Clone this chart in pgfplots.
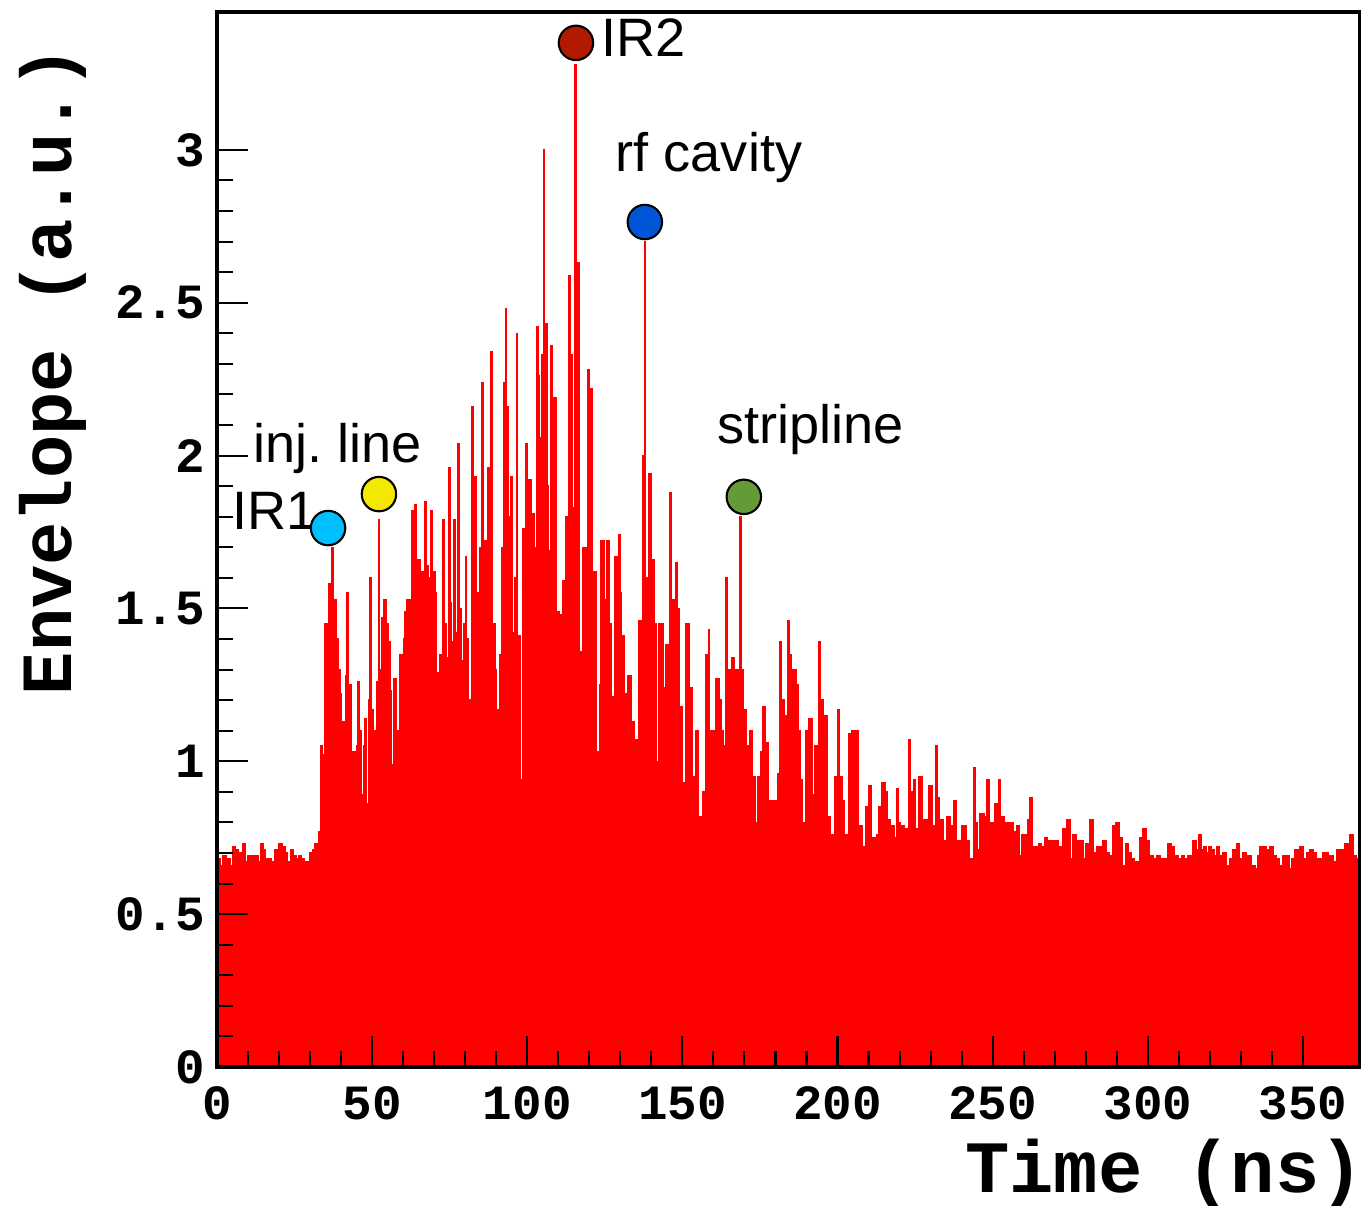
\documentclass[border=0pt]{standalone}
\usepackage{fontspec}
\setmainfont{Liberation Sans}
\setmonofont{Liberation Mono}
\usepackage{pgfplots}
\pgfplotsset{compat=1.18}

\definecolor{mkcyan}{RGB}{0,191,255}
\definecolor{mkyellow}{RGB}{245,232,0}
\definecolor{mkred}{RGB}{178,26,0}
\definecolor{mkblue}{RGB}{0,85,214}
\definecolor{mkgreen}{RGB}{100,155,55}

\pgfplotstableread{
x y
0 0.68
1 0.66
2 0.69
3 0.68
4.2 0.66
5.0 0.72
6 0.71
7 0.70
8 0.67
8.4 0.73
9 0.67
10 0.69
10.6 0.65
11.3 0.69
12.5 0.69
13.4 0.67
14 0.73
14.8 0.71
15.5 0.68
16.5 0.68
17.5 0.67
18.6 0.71
19.5 0.69
20 0.73
21 0.72
22 0.70
22.7 0.67
23.6 0.71
24.5 0.69
25.5 0.68
26.3 0.69
27.3 0.68
28.2 0.67
29 0.67
30 0.70
31 0.71
31.6 0.73
32.2 0.68
32.7 0.77
33.4 1.05
34.0 1.02
34.8 1.45
35.5 1.42
35.9 1.58
36.4 1.52
37.0 1.70
37.4 1.40
38.0 1.53
38.5 1.40
39.0 1.30
39.6 1.22
40.2 1.13
40.9 1.06
41.5 1.28
41.8 1.55
42.2 1.25
43.4 0.82
43.9 1.03
45.0 1.05
45.2 1.26
46.0 1.10
46.6 0.89
47.2 1.05
47.7 1.14
48.2 0.86
48.8 1.20
49.2 1.60
49.6 1.17
50.4 1.10
50.9 0.93
51.5 1.26
52.0 1.79
52.4 1.30
53.1 1.47
53.6 1.53
54.7 1.45
55.2 1.39
55.8 1.23
56.3 0.99
57.0 1.27
57.9 0.97
58.4 1.10
59.0 1.35
60.1 1.40
60.6 1.49
61.1 1.53
62.2 1.51
62.8 1.82
63.8 1.84
64.3 1.66
65.4 1.62
66.5 1.58
67.1 1.85
67.6 1.64
68.1 1.60
69.0 1.82
69.5 1.62
70.3 1.55
70.8 1.29
71.9 1.35
72.7 1.79
73.2 1.45
74.0 1.34
74.6 1.96
75.1 1.52
75.6 1.39
76.2 1.79
76.7 1.42
77.2 1.33
77.7 2.04
78.2 1.50
78.8 1.33
79.4 1.45
80.0 1.67
80.5 1.40
81.0 1.20
81.7 0.98
82.2 2.16
82.7 1.80
83.1 1.93
83.6 1.55
84.2 1.00
84.6 1.70
85.4 2.24
85.9 1.72
86.8 1.60
87.3 1.96
87.8 1.60
88.3 2.34
88.7 1.45
89.6 1.30
90.1 1.17
91.0 1.35
91.7 1.70
92.3 2.24
92.9 2.48
93.4 2.16
94.0 1.80
94.8 1.93
95.3 1.42
96.0 1.60
96.5 2.40
96.9 1.41
97.8 0.94
98.6 1.76
99.6 2.04
100.1 1.92
101.2 1.52
101.7 1.81
102.3 1.70
102.9 2.42
103.4 2.26
103.9 2.06
104.5 2.33
105.2 3.00
105.6 2.43
106.3 1.90
106.8 1.69
107.7 2.36
108.2 2.19
109.3 1.49
110.4 1.48
111.4 1.59
112.1 1.09
112.5 1.80
113.4 2.59
113.9 2.33
114.5 1.83
115.2 3.28
115.8 2.63
116.9 1.36
117.4 1.18
118.0 1.70
119.5 2.28
120.0 1.90
120.6 2.22
121.1 1.62
122.1 1.03
123.2 1.25
123.8 1.72
124.9 1.53
125.5 1.72
126.5 1.45
127.1 1.21
128.1 1.67
129.4 1.74
129.9 1.55
130.3 1.41
131.4 1.22
132.5 1.28
133.5 1.13
134.6 1.07
135.4 0.84
136.0 1.46
137.3 2.00
137.8 2.70
138.2 1.60
139.0 1.94
139.9 1.66
141.0 1.45
141.6 1.00
142.4 1.45
143.7 1.24
144.7 1.38
145.8 1.88
146.3 1.53
147.9 1.65
148.4 1.50
149.0 1.18
150.1 0.93
151.2 1.45
152.2 1.24
153.3 0.95
154.2 1.10
155.0 0.82
156.4 0.90
157.6 1.35
158.4 1.43
158.8 1.10
159.3 0.97
159.8 1.10
160.8 1.27
161.9 1.20
162.5 1.10
163.3 1.05
164.0 1.60
164.5 1.30
165.3 1.17
166.0 1.34
166.6 1.15
167.3 1.30
168.0 1.10
168.6 1.80
169.0 1.30
169.6 1.17
170.7 1.05
171.8 1.10
172.6 0.95
173.4 0.80
174.3 0.95
175.1 1.03
176.0 1.18
176.7 1.06
177.8 0.87
179.6 0.87
180.6 0.96
181.5 1.39
182.0 1.20
182.9 1.15
183.9 1.46
184.4 1.35
185.1 1.30
186.7 1.25
187.3 1.10
188.1 0.94
188.8 0.80
189.6 1.10
190.6 1.14
191.8 0.89
192.6 1.05
193.8 1.39
194.3 1.20
195.5 1.15
196.7 0.82
197.7 0.76
199.2 0.95
200.1 1.17
200.6 0.95
201.4 0.87
202.2 0.76
203.6 1.09
204.7 1.10
205.9 1.10
206.6 0.79
208.1 0.72
209.1 0.85
210.0 0.92
211.0 0.75
212.5 0.76
213.3 0.85
214.4 0.93
215.5 0.90
216.2 0.81
216.9 0.79
218.4 0.75
219.1 0.91
219.7 0.80
220.3 0.79
221.4 0.78
223.1 1.07
223.6 0.90
224.4 0.94
225.1 0.78
226.2 0.95
227.3 0.81
228.4 0.81
229.5 0.92
230.4 0.79
231.6 1.05
232.2 0.88
232.8 0.81
234.0 0.74
235.2 0.82
236.2 0.79
237.6 0.87
238.4 0.74
239.9 0.79
241.4 0.74
242.6 0.68
243.8 0.98
244.3 0.80
245.1 0.71
245.8 0.83
247.3 0.82
248.2 0.94
248.8 0.80
249.5 0.80
250.7 0.86
251.9 0.94
252.5 0.82
253.9 0.80
255.0 0.72
255.5 0.80
256.6 0.77
257.7 0.79
258.7 0.69
259.5 0.76
260.7 0.69
261.4 0.81
262.1 0.88
262.9 0.72
264.1 0.72
265.0 0.73
265.7 0.72
266.8 0.75
267.7 0.74
268.9 0.74
270.0 0.74
271.3 0.72
272.7 0.78
273.8 0.81
274.9 0.68
275.9 0.76
277.0 0.74
278.1 0.74
279.1 0.68
280.0 0.73
281.3 0.81
282.4 0.70
283.4 0.72
284.5 0.72
285.6 0.74
286.5 0.70
287.7 0.69
288.8 0.79
289.7 0.80
290.7 0.75
291.8 0.66
292.9 0.73
293.6 0.70
294.7 0.68
295.8 0.67
297.4 0.75
298.3 0.78
299.6 0.74
300.6 0.69
301.7 0.68
302.8 0.69
303.9 0.68
305.5 0.68
306.5 0.73
307.6 0.72
308.7 0.69
309.8 0.68
310.8 0.69
311.9 0.68
313.0 0.69
314.4 0.74
315.7 0.71
316.4 0.76
317.3 0.71
318.1 0.72
318.9 0.70
319.7 0.72
320.5 0.71
321.3 0.69
322.1 0.72
323.2 0.69
324.2 0.70
325.3 0.66
326.4 0.68
327.5 0.71
328.6 0.73
329.6 0.68
330.7 0.70
331.8 0.69
333.4 0.66
334.5 0.65
335.3 0.69
336.1 0.72
337.1 0.72
338.2 0.71
339.3 0.72
340.4 0.69
341.4 0.68
342.5 0.66
343.6 0.69
344.7 0.69
345.7 0.65
346.5 0.68
347.3 0.71
349.0 0.72
350.0 0.68
351.1 0.70
352.2 0.71
353.3 0.70
354.3 0.68
355.4 0.68
356.5 0.70
358.1 0.69
359.7 0.67
360.8 0.71
361.8 0.71
363.5 0.73
364.5 0.70
365.1 0.76
366.1 0.69
367.2 0.68
368.4 0.68
}\envdata

\begin{document}
\begin{tikzpicture}
\useasboundingbox (-2.17,-1.39) rectangle (11.44,10.67);
\begin{axis}[
    at={(0,0)}, anchor=south west,
    scale only axis,
    width=11.43cm, height=10.55cm,
    xmin=0, xmax=368.4,
    ymin=0, ymax=3.451,
    xtick={0,50,...,350},
    ytick={0,0.5,1,1.5,2,2.5,3},
    minor x tick num=4,
    minor y tick num=4,
    tick align=inside,
    xtick pos=left, ytick pos=left,
    major tick length=0.31cm,
    minor tick length=0.16cm,
    tick style={black, line width=0.6pt},
    axis line style={black, line width=1.3pt},
    ticklabel style={font=\ttfamily\bfseries\fontsize{14}{14}\selectfont},
    xticklabel style={yshift=-2pt},
    /pgf/number format/assume math mode=true,
    axis on top,
    clip=false,
]

% envelope histogram
\addplot[const plot, draw=red, fill=red, line width=0.4pt]
    table[x=x, y=y] {\envdata} \closedcycle;

% location markers
\addplot[only marks, mark=*, mark size=4.9pt,
    mark options={fill=mkcyan, draw=black, line width=0.6pt}]
    coordinates {(35.8,1.763)};
\addplot[only marks, mark=*, mark size=4.9pt,
    mark options={fill=mkyellow, draw=black, line width=0.6pt}]
    coordinates {(52.2,1.874)};
\addplot[only marks, mark=*, mark size=4.9pt,
    mark options={fill=mkred, draw=black, line width=0.6pt}]
    coordinates {(115.7,3.35)};
\addplot[only marks, mark=*, mark size=4.9pt,
    mark options={fill=mkblue, draw=black, line width=0.6pt}]
    coordinates {(137.9,2.764)};
\addplot[only marks, mark=*, mark size=4.9pt,
    mark options={fill=mkgreen, draw=black, line width=0.6pt}]
    coordinates {(169.8,1.865)};

\begin{scope}[every node/.style={anchor=base west, inner sep=0pt,
        font=\fontsize{15.4}{15.4}\selectfont}]
\node at (axis cs:4.8,1.757) {IR1};
\node at (axis cs:11.6,1.976) {inj.\ line};
\node at (axis cs:123.75,3.304) {IR2};
\node at (axis cs:128.3,2.928) {rf cavity};
\node at (axis cs:161.1,2.038) {stripline};
\end{scope}

\node[anchor=base east, inner sep=0pt,
      font=\ttfamily\bfseries\fontsize{21}{21}\selectfont]
    at (rel axis cs:1.004,-0.1185) {Time (ns)};
\node[anchor=base east, inner sep=0pt, rotate=90,
      font=\ttfamily\bfseries\fontsize{20.5}{20.5}\selectfont]
    at (rel axis cs:-0.1277,0.968) {Envelope (a.u.)};
\end{axis}
\end{tikzpicture}
\end{document}
